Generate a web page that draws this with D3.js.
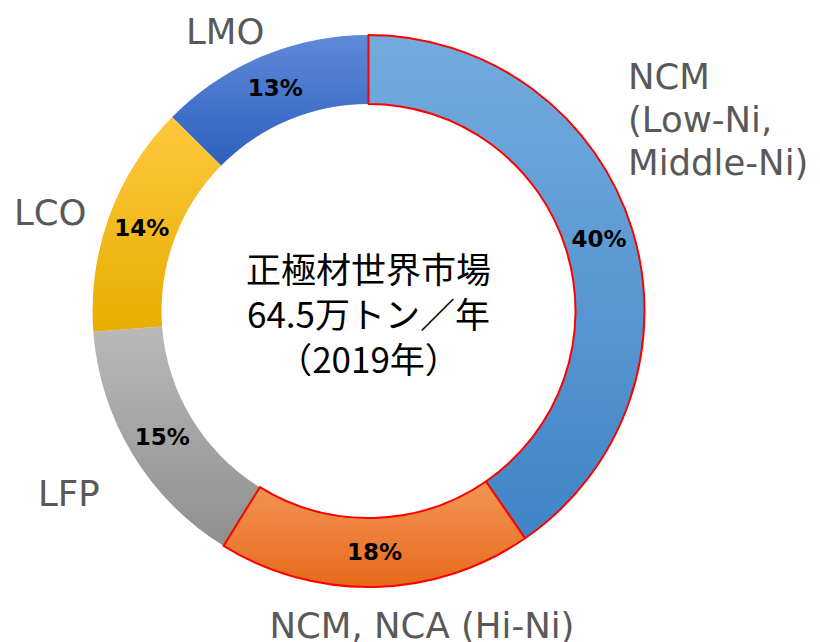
<!DOCTYPE html>
<html>
<head>
<meta charset="utf-8">
<script src="https://cdn.jsdelivr.net/npm/d3@7"></script>
<style>
  html, body { margin: 0; padding: 0; background: #fff; }
  svg { display: block; }
  .cat-label { font-family: "DejaVu Sans", sans-serif; font-size: 35.5px; fill: #595959; }
  .pct-label { font-family: "DejaVu Sans", sans-serif; font-size: 23px; font-weight: bold; fill: #000; }
  .center-label { font-family: "Noto Sans CJK JP", sans-serif; font-size: 35px; fill: #000; }
</style>
</head>
<body>
<div id="chart"></div>
<script>
// data (clockwise from 12 o'clock)
const categories = ["NCM (Low-Ni, Middle-Ni)", "NCM, NCA (Hi-Ni)", "LFP", "LCO", "LMO"];
const shares = [40.4, 18.4, 15.0, 13.6, 12.6];
const shareLabels = ["40%", "18%", "15%", "14%", "13%"];
const centerLines = ["正極材世界市場", "64.5万トン／年", "（2019年）"];

const colorTop = ["#74abde", "#f49556", "#b9b9b9", "#ffc83d", "#6089d8"];
const colorBottom = ["#3f85c7", "#e66a1b", "#8f8f8f", "#e7ad00", "#2c60bf"];
const redEdge = [true, true, false, false, false];

// category label placement (text lines, x, first baseline, anchor)
const catLines = [["NCM", "(Low-Ni,", "Middle-Ni)"], ["NCM, NCA (Hi-Ni)"], ["LFP"], ["LCO"], ["LMO"]];
const catPos = [[628, 89, "start"], [422, 638, "middle"], [38, 506, "start"], [14, 225, "start"], [186, 44, "start"]];

const width = 820, height = 642;
const cx = 368.5, cy = 311;
const outerR = 276, innerR = 207;

const svg = d3.select("#chart").append("svg")
	.attr("width", width)
	.attr("height", height);

const defs = svg.append("defs");
colorTop.forEach(function (c, i) {
	const g = defs.append("linearGradient")
		.attr("id", "grad" + i)
		.attr("x1", 0).attr("y1", 0)
		.attr("x2", 0).attr("y2", 1);
	g.append("stop").attr("offset", "0%").attr("stop-color", c);
	g.append("stop").attr("offset", "100%").attr("stop-color", colorBottom[i]);
});

const pie = d3.pie().sort(null).value(d => d);
const arcs = pie(shares);

const arc = d3.arc()
	.innerRadius(innerR)
	.outerRadius(outerR);

const labelArc = d3.arc()
	.innerRadius((innerR + outerR) / 2)
	.outerRadius((innerR + outerR) / 2);

const g = svg.append("g")
	.attr("transform", `translate(${cx},${cy})`);

// plain slices first, outlined ones on top so the red edge is not covered
const order = d3.range(arcs.length).sort((a, b) => redEdge[a] - redEdge[b]);

g.selectAll("path.slice")
	.data(order)
	.enter().append("path")
	.attr("class", "slice")
	.attr("d", i => arc(arcs[i]))
	.attr("fill", i => `url(#grad${i})`)
	.attr("stroke", i => redEdge[i] ? "#ff0000" : "none")
	.attr("stroke-width", 2)
	.attr("stroke-linejoin", "round");

g.selectAll("text.pct-label")
	.data(arcs)
	.enter().append("text")
	.attr("class", "pct-label")
	.attr("text-anchor", "middle")
	.attr("dominant-baseline", "central")
	.attr("transform", d => `translate(${labelArc.centroid(d)})`)
	.text((d, i) => shareLabels[i]);

// center title
const lineGap = 45;
svg.append("text")
	.attr("class", "center-label")
	.attr("text-anchor", "middle")
	.selectAll("tspan")
	.data(centerLines)
	.enter().append("tspan")
	.attr("x", cx)
	.attr("y", (d, i) => 283 + i * lineGap)
	.text(d => d);

// category labels
catLines.forEach(function (lines, i) {
	const p = catPos[i];
	svg.append("text")
		.attr("class", "cat-label")
		.attr("text-anchor", p[2])
		.selectAll("tspan")
		.data(lines)
		.enter().append("tspan")
		.attr("x", p[0])
		.attr("y", (d, j) => p[1] + j * 43)
		.text(d => d);
});
</script>
</body>
</html>
